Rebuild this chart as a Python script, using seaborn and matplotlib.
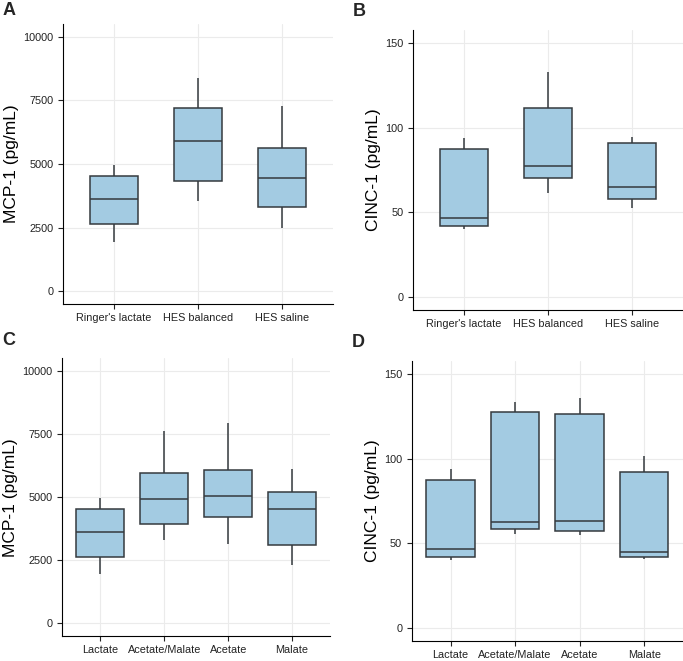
import pandas as pd
import matplotlib
matplotlib.use('Agg')
import matplotlib.pyplot as plt
import seaborn as sns

# five-number summaries: low whisker, Q1, median, Q3, high whisker
groups_ab = ["Ringer's lactate", "HES balanced", "HES saline"]
mcp_ab = [[1950, 2650, 3620, 4520, 4980],
          [3530, 4350, 5900, 7220, 8380],
          [2500, 3330, 4460, 5630, 7300]]
cinc_ab = [[40, 42, 47, 87.5, 94],
           [61.5, 70, 77.5, 111.5, 133],
           [52.5, 58, 65, 91, 94.5]]

groups_cd = ["Lactate", "Acetate/Malate", "Acetate", "Malate"]
mcp_cd = [[1950, 2650, 3620, 4520, 4980],
          [3300, 3930, 4920, 5970, 7620],
          [3130, 4230, 5060, 6070, 7940],
          [2300, 3100, 4520, 5190, 6130]]
cinc_cd = [[40, 42, 47, 87.5, 94],
           [55.5, 58.5, 62.5, 127.5, 133.5],
           [55, 57.5, 63.5, 126.5, 135.5],
           [41, 42, 45, 92, 101.5]]

mcp_ticks = [0, 2500, 5000, 7500, 10000]
cinc_ticks = [0, 50, 100, 150]

sns.set_style('whitegrid', rc={
    'grid.color': '#ebebeb',
    'axes.edgecolor': 'black',
    'axes.linewidth': 1.0,
    'xtick.bottom': True,
    'ytick.left': True,
    'xtick.major.size': 3,
    'ytick.major.size': 3,
    'xtick.color': 'black',
    'ytick.color': 'black',
})
plt.rcParams['font.family'] = ['Liberation Sans', 'DejaVu Sans']


def long_df(groups, vals):
    rows = []
    for g, v in zip(groups, vals):
        for x in v:
            rows.append({'group': g, 'value': x})
    return pd.DataFrame(rows)


def panel(ax, groups, vals, ylabel, ticks, ylim, width):
    df = long_df(groups, vals)
    sns.boxplot(data=df, x='group', y='value', order=groups, ax=ax,
                color='#a3cbe2', saturation=1, linecolor='#353a3e',
                linewidth=1.1, width=width, whis=(0, 100), showcaps=False)
    ax.set_xlim(-0.6, len(groups) - 0.4)
    ax.set_ylim(*ylim)
    ax.set_yticks(ticks)
    ax.set_xlabel('')
    ax.set_ylabel(ylabel, fontsize=12.5, color='black', labelpad=3)
    ax.tick_params(labelsize=7.8, colors='#222222', width=0.8)
    ax.tick_params(axis='x', pad=3)
    ax.grid(True, color='#ebebeb', linewidth=0.8)
    ax.set_axisbelow(True)
    sns.despine(ax=ax)


fig = plt.figure(figsize=(6.83, 6.61), dpi=100)
ax_a = fig.add_axes([0.0922, 0.540, 0.395, 0.4236])
ax_b = fig.add_axes([0.6047, 0.531, 0.395, 0.4236])
ax_c = fig.add_axes([0.0908, 0.0378, 0.393, 0.420])
ax_d = fig.add_axes([0.603, 0.0302, 0.397, 0.4236])

panel(ax_a, groups_ab, mcp_ab, 'MCP-1 (pg/mL)', mcp_ticks, (-500, 10500), 0.57)
panel(ax_b, groups_ab, cinc_ab, 'CINC-1 (pg/mL)', cinc_ticks, (-7.5, 157.5), 0.57)
panel(ax_c, groups_cd, mcp_cd, 'MCP-1 (pg/mL)', mcp_ticks, (-500, 10500), 0.75)
panel(ax_d, groups_cd, cinc_cd, 'CINC-1 (pg/mL)', cinc_ticks, (-7.5, 157.5), 0.75)

# panel letters, placed in figure pixels from top-left
for letter, px, py in [('A', 3, 2), ('B', 353, 3), ('C', 2, 332), ('D', 352, 334)]:
    fig.text(px / 683, 1 - py / 661, letter, fontsize=13, fontweight='bold',
             ha='left', va='top')

fig.savefig('out.png', dpi=100)
